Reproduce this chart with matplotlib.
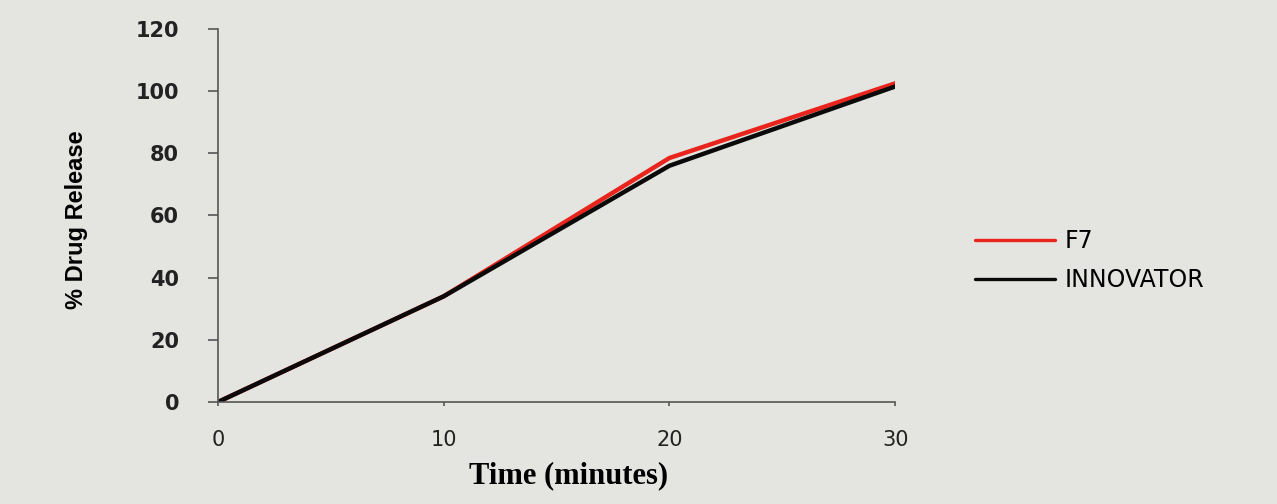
import matplotlib.pyplot as plt

# time points (minutes) and % drug release
time_min = [0, 10, 20, 30]
f7 = [0, 34, 78.5, 102.5]
innovator = [0, 34, 76, 101.5]
series_names = ['F7', 'INNOVATOR']
series_colors = ['#e8241c', '#0a0a0a']

bg = '#e4e5e1'
fig = plt.figure(figsize=(12.77, 5.04), dpi=100, facecolor=bg)
ax = fig.add_axes([0.1707, 0.2024, 0.5303, 0.7401], facecolor=bg)

ax.plot(time_min, f7, color=series_colors[0], lw=3.2, label=series_names[0],
        solid_joinstyle='round', solid_capstyle='round')
ax.plot(time_min, innovator, color=series_colors[1], lw=3.2, label=series_names[1],
        solid_joinstyle='round', solid_capstyle='round')

ax.set_xlim(0, 30)
ax.set_ylim(0, 120)
ax.set_xticks([0, 10, 20, 30])
ax.set_yticks(range(0, 121, 20))

for side in ['top', 'right']:
    ax.spines[side].set_visible(False)
for side in ['left', 'bottom']:
    ax.spines[side].set_color('#555555')
    ax.spines[side].set_linewidth(1.2)

ax.tick_params(axis='y', direction='out', length=7, width=1.2, color='#555555',
               pad=21, labelsize=15, labelcolor='#222222')
ax.tick_params(axis='x', direction='out', length=3, width=1.2, color='#555555',
               pad=17, labelsize=15, labelcolor='#222222')
for lbl in ax.get_yticklabels():
    lbl.set_fontweight('bold')

ax.set_xlabel('Time (minutes)', family='Liberation Serif', fontweight='bold',
              fontsize=22)
ax.xaxis.set_label_coords(0.518, -0.16)
ax.set_ylabel('% Drug Release', family='Liberation Sans', fontweight='bold',
              fontsize=17)
ax.yaxis.set_label_coords(-0.192, 0.488)

ax.legend(loc='center left', bbox_to_anchor=(1.118, 0.379), frameon=False,
          fontsize=17, handlelength=3.4, handletextpad=0.4, labelspacing=0.65,
          borderpad=0, borderaxespad=0)
for line in ax.get_legend().get_lines():
    line.set_linewidth(2.4)

fig.savefig('out.png', dpi=100, facecolor=bg)
